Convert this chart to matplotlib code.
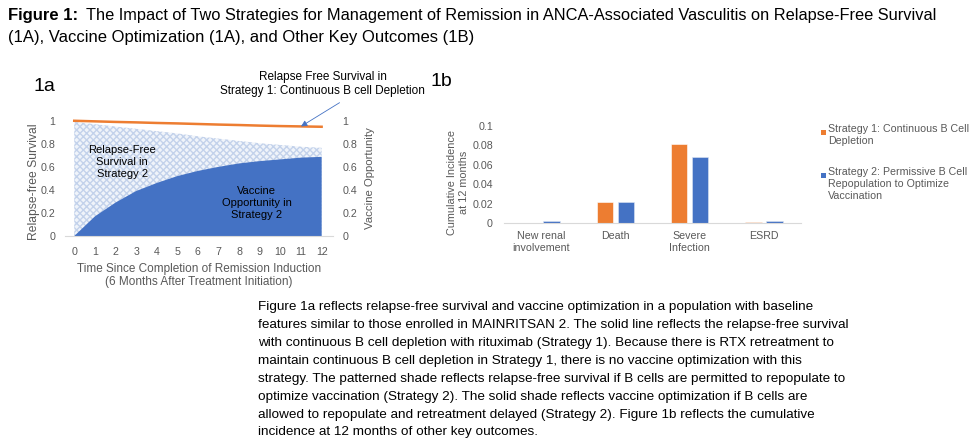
import matplotlib.pyplot as plt
from matplotlib.patches import Rectangle

plt.rcParams['font.family'] = ['Liberation Sans', 'DejaVu Sans']

# ---- data ----
months = [0, 1, 2, 3, 4, 5, 6, 7, 8, 9, 10, 11, 12]
rfs_strategy1 = [1.0, 0.995, 0.99, 0.986, 0.981, 0.977, 0.972, 0.967, 0.963, 0.958, 0.954, 0.951, 0.948]
rfs_strategy2 = [0.99, 0.97, 0.95, 0.93, 0.91, 0.89, 0.865, 0.845, 0.825, 0.805, 0.79, 0.775, 0.765]
vaccine_opp = [0.0, 0.17, 0.29, 0.39, 0.46, 0.52, 0.565, 0.60, 0.63, 0.65, 0.665, 0.68, 0.687]

outcomes = ['New renal\ninvolvement', 'Death', 'Severe\nInfection', 'ESRD']
inc_strategy1 = [0.0, 0.022, 0.0815, 0.001]
inc_strategy2 = [0.002, 0.022, 0.068, 0.002]
legend_labels = ['Strategy 1: Continuous B Cell\nDepletion',
                 'Strategy 2: Permissive B Cell\nRepopulation to Optimize\nVaccination']

ORANGE = '#ED7D31'
BLUE = '#4472C4'
GREY = '#595959'
AXIS = '#D9D9D9'

fig = plt.figure(figsize=(9.77, 4.42), dpi=100)

# ---- title ----
fig.text(0.008, 0.955, 'Figure 1:', fontsize=12, fontweight='bold', va='baseline')
fig.text(0.088, 0.955, 'The Impact of Two Strategies for Management of Remission in ANCA-Associated Vasculitis on Relapse-Free Survival',
         fontsize=11.75, va='baseline')
fig.text(0.008, 0.905, '(1A), Vaccine Optimization (1A), and Other Key Outcomes (1B)', fontsize=12, va='baseline')

fig.text(0.034, 0.795, '1a', fontsize=14, va='baseline')
fig.text(0.441, 0.805, '1b', fontsize=14, va='baseline')

# ---- 1a ----
ax = fig.add_axes([0.0665, 0.466, 0.2743, 0.2738])
ax.fill_between(months, 0, rfs_strategy2, facecolor='#F0F4FA', edgecolor='#C3D2EB',
                hatch='xxxxx', linewidth=0)
ax.fill_between(months, 0, vaccine_opp, facecolor=BLUE, linewidth=0)
ax.plot(months, rfs_strategy1, color=ORANGE, lw=1.8)
ax.set_xlim(-0.45, 12.55)
ax.set_ylim(0, 1.05)
ax.set_xticks(months)
ax.set_yticks([0, 0.2, 0.4, 0.6, 0.8, 1])
ax.set_yticklabels(['0', '0.2', '0.4', '0.6', '0.8', '1'])
ax.tick_params(axis='y', length=0, labelsize=7.7, colors=GREY, pad=7)
ax.tick_params(axis='x', length=0, labelsize=7.7, colors=GREY, pad=8)
for s in ['top', 'right', 'left']:
    ax.spines[s].set_visible(False)
ax.spines['bottom'].set_color(AXIS)
ax.set_ylabel('Relapse-free Survival', fontsize=8.7, color=GREY)
ax.yaxis.set_label_coords(-0.093, 0.45)
ax.set_xlabel('Time Since Completion of Remission Induction\n(6 Months After Treatment Initiation)',
              fontsize=8.5, color=GREY, labelpad=4)

ax2 = ax.twinx()
ax2.set_ylim(0, 1.05)
ax2.set_yticks([0, 0.2, 0.4, 0.6, 0.8, 1])
ax2.set_yticklabels(['0', '0.2', '0.4', '0.6', '0.8', '1'])
ax2.tick_params(length=0, labelsize=7.7, colors=GREY, pad=7)
for s in ['top', 'right', 'left', 'bottom']:
    ax2.spines[s].set_visible(False)
ax2.set_ylabel('Vaccine Opportunity', fontsize=8.2, color=GREY)
ax2.yaxis.set_label_coords(1.118, 0.48)

ax.text(2.32, 0.643, 'Relapse-Free\nSurvival in\nStrategy 2', ha='center', va='center', fontsize=8)
ax.text(8.85, 0.287, 'Vaccine\nOpportunity in\nStrategy 2', ha='center', va='center', fontsize=8)
ax.text(12.05, 1.32, 'Relapse Free Survival in\nStrategy 1: Continuous B cell Depletion',
        ha='center', va='center', fontsize=8.45, clip_on=False)
ax.annotate('', xy=(11, rfs_strategy1[11]), xytext=(12.87, 1.157), annotation_clip=False,
            arrowprops=dict(arrowstyle='-|>', color=BLUE, lw=0.6, shrinkA=0, shrinkB=0,
                            mutation_scale=9))

# ---- 1b ----
bx = fig.add_axes([0.5159, 0.4955, 0.304, 0.2195])
pos = list(range(len(outcomes)))
w = 0.222
bx.bar([p - 0.141 for p in pos], inc_strategy1, w, color=ORANGE, edgecolor='white', lw=0.4)
bx.bar([p + 0.141 for p in pos], inc_strategy2, w, color=BLUE, edgecolor='#DDE6F4', lw=0.4)
bx.set_xlim(-0.5, 3.5)
bx.set_ylim(0, 0.1)
bx.set_xticks(pos)
bx.set_xticklabels(outcomes, linespacing=1.25)
bx.set_yticks([0, 0.02, 0.04, 0.06, 0.08, 0.1])
bx.set_yticklabels(['0', '0.02', '0.04', '0.06', '0.08', '0.1'])
bx.tick_params(axis='y', length=0, labelsize=7.7, colors=GREY, pad=8)
bx.tick_params(axis='x', length=0, labelsize=7.7, colors=GREY, pad=6)
for s in ['top', 'right', 'left']:
    bx.spines[s].set_visible(False)
bx.spines['bottom'].set_color(AXIS)
bx.set_ylabel('Cumulative Incidence\nat 12 months', fontsize=7.8, color=GREY)
bx.yaxis.set_label_coords(-0.118, 0.42)

# legend: square marker next to the first line of each label (Excel style)
W, H = 977.0, 442.0
for lab, col, ytop in zip(legend_labels, [ORANGE, BLUE], [132, 175]):
    fig.add_artist(Rectangle((821 / W, 1 - (ytop + 2.5) / H), 5 / W, 5 / H,
                             transform=fig.transFigure, facecolor=col, edgecolor='none'))
    fig.text(828 / W, 1 - (ytop - 8) / H, lab, fontsize=7.7, color=GREY, va='top',
             linespacing=1.22)

# ---- caption ----
caption = ('Figure 1a reflects relapse-free survival and vaccine optimization in a population with baseline\n'
           'features similar to those enrolled in MAINRITSAN 2. The solid line reflects the relapse-free survival\n'
           'with continuous B cell depletion with rituximab (Strategy 1). Because there is RTX retreatment to\n'
           'maintain continuous B cell depletion in Strategy 1, there is no vaccine optimization with this\n'
           'strategy. The patterned shade reflects relapse-free survival if B cells are permitted to repopulate to\n'
           'optimize vaccination (Strategy 2). The solid shade reflects vaccine optimization if B cells are\n'
           'allowed to repopulate and retreatment delayed (Strategy 2). Figure 1b reflects the cumulative\n'
           'incidence at 12 months of other key outcomes.')
fig.text(0.264, 0.318, caption, fontsize=9.7, va='top', linespacing=1.65)

fig.savefig('out.png', dpi=100)
